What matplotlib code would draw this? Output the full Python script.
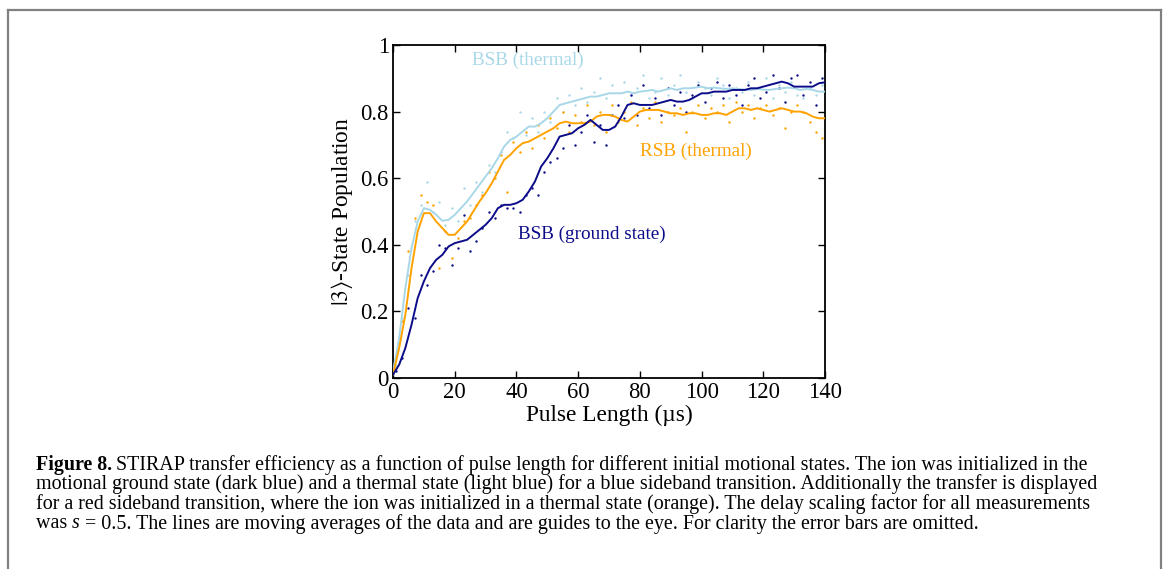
import matplotlib
matplotlib.use("Agg")
import matplotlib.pyplot as plt
from matplotlib.lines import Line2D

plt.rcParams['font.family'] = ['Liberation Serif', 'DejaVu Serif']
plt.rcParams['mathtext.fontset'] = 'stix'

# ---------------- data ----------------
line_x = list(range(0, 141, 2))
bsb_ground_line = [0.01, 0.04, 0.09, 0.16, 0.24, 0.29, 0.33, 0.355, 0.37, 0.395,
                   0.405, 0.41, 0.415, 0.43, 0.445, 0.46, 0.48, 0.51, 0.52, 0.52,
                   0.525, 0.535, 0.56, 0.59, 0.635, 0.66, 0.69, 0.725, 0.73, 0.735,
                   0.75, 0.76, 0.775, 0.76, 0.745, 0.745, 0.755, 0.785, 0.82, 0.825,
                   0.82, 0.82, 0.82, 0.825, 0.83, 0.835, 0.83, 0.83, 0.835, 0.845,
                   0.855, 0.855, 0.86, 0.86, 0.86, 0.865, 0.865, 0.865, 0.87, 0.87,
                   0.875, 0.88, 0.885, 0.89, 0.885, 0.875, 0.875, 0.875, 0.875, 0.885,
                   0.888]
bsb_thermal_line = [0.02, 0.12, 0.27, 0.39, 0.47, 0.51, 0.505, 0.49, 0.472, 0.475,
                    0.49, 0.51, 0.53, 0.555, 0.58, 0.605, 0.63, 0.66, 0.695, 0.715,
                    0.725, 0.74, 0.755, 0.755, 0.765, 0.78, 0.80, 0.82, 0.825, 0.83,
                    0.835, 0.84, 0.845, 0.845, 0.85, 0.855, 0.855, 0.855, 0.86, 0.855,
                    0.86, 0.862, 0.865, 0.86, 0.865, 0.87, 0.865, 0.87, 0.87, 0.872,
                    0.875, 0.87, 0.872, 0.87, 0.868, 0.87, 0.868, 0.866, 0.865, 0.868,
                    0.866, 0.865, 0.868, 0.87, 0.872, 0.87, 0.865, 0.868, 0.865, 0.86,
                    0.86]
rsb_thermal_line = [0.01, 0.09, 0.19, 0.33, 0.44, 0.495, 0.495, 0.47, 0.45, 0.43,
                    0.43, 0.45, 0.47, 0.50, 0.53, 0.555, 0.585, 0.62, 0.655, 0.67,
                    0.69, 0.705, 0.71, 0.72, 0.73, 0.74, 0.75, 0.765, 0.77, 0.765,
                    0.765, 0.765, 0.77, 0.785, 0.79, 0.79, 0.785, 0.775, 0.77, 0.785,
                    0.80, 0.805, 0.805, 0.805, 0.80, 0.795, 0.795, 0.79, 0.795, 0.795,
                    0.79, 0.79, 0.795, 0.795, 0.79, 0.80, 0.81, 0.81, 0.805, 0.81,
                    0.805, 0.80, 0.805, 0.81, 0.805, 0.80, 0.80, 0.795, 0.785, 0.78,
                    0.78]

dot_x = list(range(1, 140, 2))
bsb_ground_dots = [0.02, 0.06, 0.21, 0.18, 0.31, 0.28, 0.32, 0.40, 0.39, 0.34,
                   0.39, 0.49, 0.38, 0.41, 0.45, 0.50, 0.48, 0.52, 0.51, 0.51,
                   0.50, 0.55, 0.57, 0.55, 0.62, 0.65, 0.66, 0.69, 0.76, 0.70,
                   0.74, 0.79, 0.71, 0.76, 0.70, 0.79, 0.82, 0.78, 0.85, 0.79,
                   0.88, 0.81, 0.84, 0.79, 0.87, 0.82, 0.86, 0.80, 0.85, 0.88,
                   0.83, 0.87, 0.89, 0.84, 0.88, 0.85, 0.82, 0.88, 0.90, 0.84,
                   0.86, 0.91, 0.87, 0.83, 0.90, 0.91, 0.85, 0.89, 0.82, 0.90]
bsb_thermal_dots = [0.04, 0.18, 0.31, 0.47, 0.52, 0.59, 0.50, 0.53, 0.46, 0.51,
                    0.47, 0.57, 0.52, 0.59, 0.56, 0.64, 0.62, 0.68, 0.74, 0.72,
                    0.80, 0.73, 0.78, 0.74, 0.80, 0.77, 0.84, 0.80, 0.85, 0.82,
                    0.87, 0.83, 0.86, 0.90, 0.84, 0.88, 0.82, 0.89, 0.85, 0.87,
                    0.91, 0.84, 0.86, 0.90, 0.85, 0.88, 0.91, 0.86, 0.84, 0.89,
                    0.87, 0.85, 0.90, 0.88, 0.84, 0.87, 0.86, 0.89, 0.85, 0.87,
                    0.90, 0.84, 0.88, 0.86, 0.89, 0.85, 0.84, 0.87, 0.85, 0.88]
rsb_thermal_dots = [0.03, 0.17, 0.38, 0.48, 0.55, 0.53, 0.52, 0.33, 0.44, 0.36,
                    0.42, 0.47, 0.48, 0.52, 0.55, 0.62, 0.60, 0.67, 0.56, 0.71,
                    0.68, 0.74, 0.69, 0.76, 0.72, 0.78, 0.75, 0.80, 0.74, 0.79,
                    0.77, 0.82, 0.76, 0.80, 0.74, 0.82, 0.77, 0.80, 0.83, 0.76,
                    0.81, 0.78, 0.83, 0.77, 0.80, 0.79, 0.81, 0.74, 0.80, 0.82,
                    0.78, 0.81, 0.80, 0.82, 0.77, 0.83, 0.80, 0.82, 0.78, 0.81,
                    0.82, 0.79, 0.81, 0.75, 0.80, 0.82, 0.80, 0.77, 0.74, 0.72]

x_ticks = [0, 20, 40, 60, 80, 100, 120, 140]
y_ticks = [0, 0.2, 0.4, 0.6, 0.8, 1]
y_tick_labels = ['0', '0.2', '0.4', '0.6', '0.8', '1']

caption_lines = [
    "STIRAP transfer efficiency as a function of pulse length for different initial motional states. The ion was initialized in the",
    "motional ground state (dark blue) and a thermal state (light blue) for a blue sideband transition. Additionally the transfer is displayed",
    "for a red sideband transition, where the ion was initialized in a thermal state (orange). The delay scaling factor for all measurements",
]
caption_last = ["was ", "s", " = 0.5. The lines are moving averages of the data and are guides to the eye. For clarity the error bars are omitted."]

# ---------------- figure ----------------
W, H = 1168, 569
fig = plt.figure(figsize=(W / 100, H / 100), dpi=100)
fig.patch.set_facecolor('white')

# page border (gray frame)
border_col = '#808080'
fig.add_artist(Line2D([8 / W, 8 / W], [0, 1 - 10 / H], transform=fig.transFigure,
                      color=border_col, lw=1.6))
fig.add_artist(Line2D([8 / W, 1161 / W], [1 - 10 / H, 1 - 10 / H], transform=fig.transFigure,
                      color=border_col, lw=1.6))
fig.add_artist(Line2D([1161 / W, 1161 / W], [0, 1 - 10 / H], transform=fig.transFigure,
                      color=border_col, lw=1.6))

ax = fig.add_axes([393 / W, 1 - 378 / H, (825 - 393) / W, (378 - 45) / H])

c_dark = '#0c0c8a'
c_light = '#a8d8e8'
c_orange = '#ffa200'

ax.scatter(dot_x, bsb_thermal_dots, s=3, color=c_light, linewidths=0, zorder=2)
ax.scatter(dot_x, rsb_thermal_dots, s=3, color=c_orange, linewidths=0, zorder=2)
ax.scatter(dot_x, bsb_ground_dots, s=3, color=c_dark, linewidths=0, zorder=2)
ax.plot(line_x, bsb_thermal_line, color=c_light, lw=1.4, zorder=3)
ax.plot(line_x, rsb_thermal_line, color=c_orange, lw=1.4, zorder=3)
ax.plot(line_x, bsb_ground_line, color=c_dark, lw=1.4, zorder=4)

ax.set_xlim(0, 140)
ax.set_ylim(0, 1)
ax.set_xticks(x_ticks)
ax.set_yticks(y_ticks)
ax.set_yticklabels(y_tick_labels)
ax.tick_params(direction='in', length=5, width=1, top=True, right=True,
               labelsize=16.3, pad=3)
for sp in ax.spines.values():
    sp.set_linewidth(1.3)

ax.set_xlabel('Pulse Length (µs)', fontsize=16.8, labelpad=1)
ax.set_ylabel(r'$|3\rangle$-State Population', fontsize=16.8, labelpad=4)

ax.text(43.7, 0.955, 'BSB (thermal)', color=c_light, fontsize=13.8,
        ha='center', va='center')
ax.text(98, 0.68, 'RSB (thermal)', color=c_orange, fontsize=13.8,
        ha='center', va='center')
ax.text(64.5, 0.432, 'BSB (ground state)', color=c_dark, fontsize=13.8,
        ha='center', va='center')

# caption
fig.canvas.draw()
renderer = fig.canvas.get_renderer()
cap_fs = 14.4
line_y = [465, 484.5, 504, 523.5]
x0 = 36


def put(x, yline, s, **kw):
    t = fig.text(x / W, 1 - yline / H, s, fontsize=cap_fs, ha='left',
                 va='baseline', **kw)
    return t.get_window_extent(renderer).x1


base = [y + 5 for y in line_y]
xe = put(x0, base[0], 'Figure 8.', fontweight='bold')
put(xe + 4, base[0], caption_lines[0])
put(x0, base[1], caption_lines[1])
put(x0, base[2], caption_lines[2])
xe = put(x0, base[3], caption_last[0])
xe = put(xe, base[3], caption_last[1], style='italic')
put(xe, base[3], caption_last[2])

fig.savefig('out.png', dpi=100, facecolor='white')
